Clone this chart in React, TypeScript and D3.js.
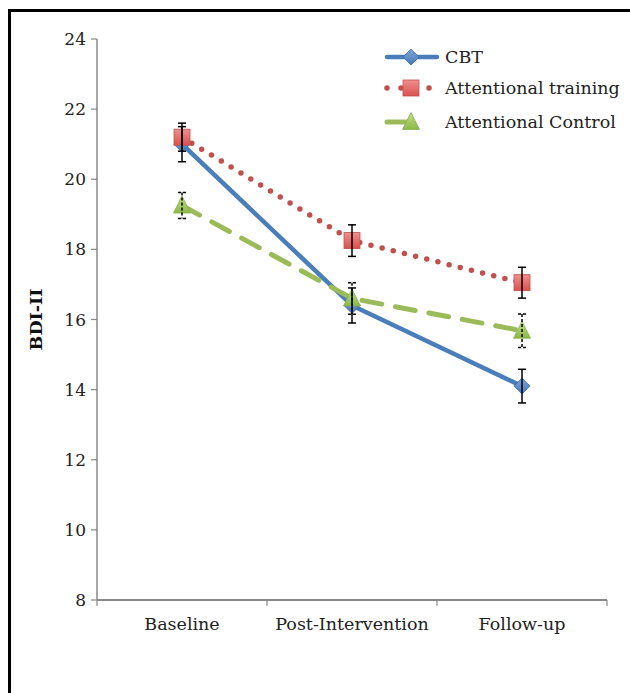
import React from 'react';
import * as d3 from 'd3';

// 측정 시점
const categories = ['Baseline', 'Post-Intervention', 'Follow-up'];
const yTicks = [8, 10, 12, 14, 16, 18, 20, 22, 24];

// 시리즈별 평균과 오차
const seriesNames = ['CBT', 'Attentional training', 'Attentional Control'];
const cbtValues = [21.0, 16.4, 14.1];
const cbtErrors = [0.5, 0.5, 0.48];
const atValues = [21.2, 18.25, 17.05];
const atErrors = [0.4, 0.45, 0.44];
const acValues = [19.25, 16.6, 15.68];
const acErrors = [0.37, 0.45, 0.48];

const FONT = '"DejaVu Serif", "Liberation Serif", serif';

const App: React.FC = () => {
  const width = 630;
  const height = 693;
  const margin = { top: 39, right: 23, bottom: 93, left: 97 };

  const x = d3.scaleBand()
    .domain(categories)
    .range([margin.left, width - margin.right]);

  const y = d3.scaleLinear()
    .domain([8, 24])
    .range([height - margin.bottom, margin.top]);

  const cx = (c: string) => (x(c) || 0) + x.bandwidth() / 2;

  const line = d3.line<number>()
    .x((_, i) => cx(categories[i]))
    .y(d => y(d));

  const series = [
    { name: seriesNames[0], values: cbtValues, errors: cbtErrors, color: '#4a7ebb', kind: 'diamond' },
    { name: seriesNames[1], values: atValues, errors: atErrors, color: '#c0504d', kind: 'square' },
    { name: seriesNames[2], values: acValues, errors: acErrors, color: '#9bbb59', kind: 'triangle' },
  ];

  const lineStyle = (kind: string) => {
    if (kind === 'diamond') return { strokeWidth: 4.5, dash: undefined };
    if (kind === 'square') return { strokeWidth: 5.5, dash: '0 11.5' };
    return { strokeWidth: 5, dash: '20 14' };
  };

  const marker = (kind: string, px: number, py: number, key: string) => {
    if (kind === 'diamond') {
      const s = 8;
      return (
        <path key={key} d={`M${px},${py - s}L${px + s},${py}L${px},${py + s}L${px - s},${py}Z`}
          fill="url(#gBlue)" stroke="#3a6aa8" strokeWidth={0.8} />
      );
    }
    if (kind === 'square') {
      const s = 8;
      return (
        <rect key={key} x={px - s} y={py - s} width={2 * s} height={2 * s}
          fill="url(#gRed)" stroke="#c0504d" strokeWidth={0.8} />
      );
    }
    const s = 8.5;
    return (
      <path key={key} d={`M${px},${py - s - 1}L${px + s},${py + s - 1}L${px - s},${py + s - 1}Z`}
        fill="url(#gGreen)" stroke="#8cae4c" strokeWidth={0.8} />
    );
  };

  const legendY = [57, 88, 122];

  return (
    <svg width={width} height={height} style={{ position: 'absolute', left: 0, top: 0, background: '#fff' }}
      fontFamily={FONT}>
      <defs>
        <linearGradient id="gBlue" x1="0" y1="0" x2="0" y2="1">
          <stop offset="0" stopColor="#7fa6d8" />
          <stop offset="1" stopColor="#4677b8" />
        </linearGradient>
        <linearGradient id="gRed" x1="0" y1="0" x2="0" y2="1">
          <stop offset="0" stopColor="#ef8f8d" />
          <stop offset="1" stopColor="#d9514f" />
        </linearGradient>
        <linearGradient id="gGreen" x1="0" y1="0" x2="0" y2="1">
          <stop offset="0" stopColor="#c3dd8e" />
          <stop offset="1" stopColor="#8ab845" />
        </linearGradient>
      </defs>

      {/* 테두리 (오른쪽/아래는 잘림) */}
      <path d={`M9.5,${height}V10.5H${width}`} fill="none" stroke="#000" strokeWidth={3} />

      {/* y축 */}
      <line x1={margin.left} x2={margin.left} y1={y(8)} y2={y(24)} stroke="#888" strokeWidth={1.5} />
      {yTicks.map(t => (
        <g key={t}>
          <line x1={margin.left - 6} x2={margin.left} y1={y(t)} y2={y(t)} stroke="#888" strokeWidth={1.2} />
          <text x={margin.left - 11} y={y(t)} dy="0.36em" textAnchor="end" fontSize={17} fill="#222">{t}</text>
        </g>
      ))}
      <text transform={`translate(42,${(y(8) + y(24)) / 2}) rotate(-90)`} textAnchor="middle"
        fontSize={17.5} fontWeight="bold" fill="#111">BDI-II</text>

      {/* x축 */}
      <line x1={margin.left} x2={width - margin.right} y1={y(8)} y2={y(8)} stroke="#888" strokeWidth={2} />
      {[...categories.map(c => x(c) || 0), width - margin.right].map((t, i) => (
        <line key={i} x1={t} x2={t} y1={y(8)} y2={y(8) + 6} stroke="#888" strokeWidth={1.2} />
      ))}
      {categories.map(c => (
        <text key={c} x={cx(c)} y={y(8) + 30} textAnchor="middle" fontSize={17.5} fill="#222">{c}</text>
      ))}

      {/* 시리즈 */}
      {series.map(s => {
        const st = lineStyle(s.kind);
        return (
          <g key={s.name}>
            <path d={line(s.values) || ''} fill="none" stroke={s.color} strokeWidth={st.strokeWidth}
              strokeDasharray={st.dash} strokeLinecap="round" strokeLinejoin="round" />
            {s.values.map((v, i) => marker(s.kind, cx(categories[i]), y(v), `${s.name}-${i}`))}
          </g>
        );
      })}

      {/* 오차 막대 */}
      {series.map(s => (
        <g key={`${s.name}-err`} stroke="#000" strokeWidth={1.5}
          strokeDasharray={s.kind === 'triangle' ? '3 2' : undefined}>
          {s.values.map((v, i) => {
            const px = cx(categories[i]);
            const top = y(v + s.errors[i]);
            const bot = y(v - s.errors[i]);
            return (
              <g key={i}>
                <line x1={px} x2={px} y1={top} y2={bot} />
                <line x1={px - 4} x2={px + 4} y1={top} y2={top} strokeDasharray={undefined} />
                <line x1={px - 4} x2={px + 4} y1={bot} y2={bot} strokeDasharray={undefined} />
              </g>
            );
          })}
        </g>
      ))}

      {/* 범례 */}
      {series.map((s, i) => {
        const st = lineStyle(s.kind);
        const ly = legendY[i];
        return (
          <g key={`${s.name}-leg`}>
            <line x1={387} x2={437} y1={ly} y2={ly} stroke={s.color} strokeWidth={st.strokeWidth}
              strokeDasharray={s.kind === 'square' ? '0 14' : s.kind === 'triangle' ? '22 40' : undefined}
              strokeLinecap="round" />
            {marker(s.kind, 411, ly, `${s.name}-lm`)}
            <text x={445} y={ly} dy="0.36em" fontSize={17.5} fill="#222">{s.name}</text>
          </g>
        );
      })}
    </svg>
  );
};

export default App;
